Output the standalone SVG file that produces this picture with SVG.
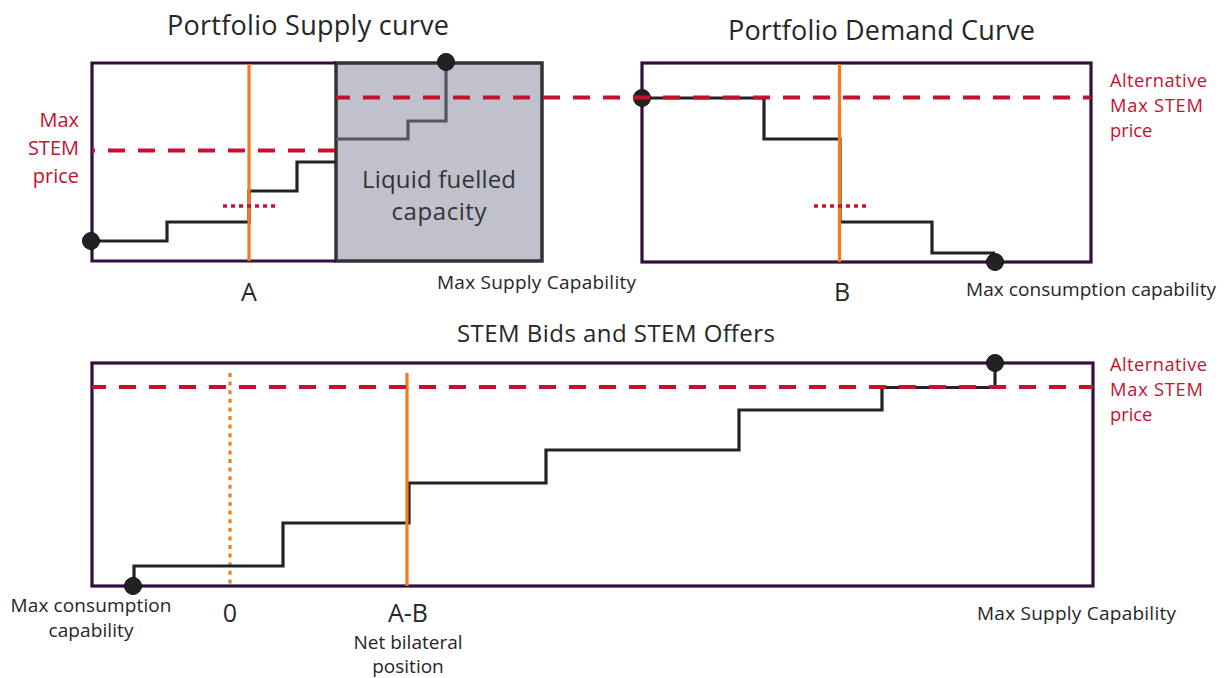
<svg xmlns="http://www.w3.org/2000/svg" width="1225" height="678" viewBox="0 0 1225 678">
<style>
text{font-family:"Open Sans","Noto Sans","Liberation Sans",sans-serif;fill:#262626}
.red{fill:#c8102e}
.frame{fill:none;stroke:#330f3e;stroke-width:3.2;stroke-linejoin:miter}
.curve{fill:none;stroke:#232323;stroke-width:3.2;stroke-linejoin:miter}
.gcurve{fill:none;stroke:#53565f;stroke-width:3.2}
.orange{stroke:#f47a20;stroke-width:3.2;fill:none}
.odot{stroke:#f47a20;stroke-width:3.2;stroke-dasharray:4 4.6;fill:none}
.dash{stroke:#c8102e;stroke-width:4;stroke-dasharray:17 13;fill:none}
.rdot{stroke:#c8102e;stroke-width:3.5;stroke-dasharray:4 4;fill:none}
.dot{fill:#222;stroke:#111;stroke-width:1}
.t1{font-size:27px}
.t2{font-size:24px}
.lab{font-size:19px}
.big{font-size:25px}
.rl{font-size:20px}
.alt{font-size:18.3px}
</style>

<g id="panel-supply">
  <text class="t1" x="308" y="35" text-anchor="middle" textLength="282">Portfolio Supply curve</text>
  <rect id="liquid-fuelled" x="336" y="63" width="206" height="198" fill="#c0c1cc" stroke="#333" stroke-width="3.5"/>
  <path class="frame" d="M336,63 H92 V261 H336"/>
  <path class="curve" d="M91,241 H167 V222 H249 V191 H297 V162 H336"/>
  <path class="gcurve" d="M336,139 H408 V121 H446 V62"/>
  <line class="orange" x1="249" y1="64" x2="249" y2="261"/>
  <line class="rdot" x1="223" y1="206" x2="275" y2="206"/>
  <line class="dash" x1="92" y1="150.5" x2="336" y2="150.5" stroke-dashoffset="14"/>
  <circle class="dot" cx="91" cy="241" r="8.5"/>
  <circle class="dot" cx="446" cy="62" r="8.5"/>
  <text class="t2" x="439" y="188" text-anchor="middle" style="fill:#333" textLength="154">Liquid fuelled</text>
  <text class="t2" x="439" y="220" text-anchor="middle" style="fill:#333" textLength="95">capacity</text>
  <text class="rl red" x="79" y="127" text-anchor="end">Max</text>
  <text class="rl red" x="79" y="155" text-anchor="end">STEM</text>
  <text class="rl red" x="79" y="183" text-anchor="end">price</text>
  <text class="big" x="249" y="301" text-anchor="middle">A</text>
  <text class="lab" x="437" y="289" textLength="199">Max Supply Capability</text>
</g>

<g id="panel-demand">
  <text class="t1" x="881.5" y="40" text-anchor="middle" textLength="307">Portfolio Demand Curve</text>
  <rect class="frame" x="642" y="63" width="449" height="199"/>
  <path class="curve" d="M642,98 H764 V139 H840 V222 H932 V253 H995"/>
  <line class="orange" x1="839.5" y1="64" x2="839.5" y2="262"/>
  <line class="rdot" x1="814" y1="206" x2="867" y2="206"/>
  <circle class="dot" cx="642" cy="98" r="8.5"/>
  <circle class="dot" cx="995" cy="262" r="8.5"/>
  <text class="alt red" x="1110" y="87" textLength="97">Alternative</text>
  <text class="alt red" x="1110" y="112" textLength="93">Max STEM</text>
  <text class="alt red" x="1110" y="137">price</text>
  <text class="big" x="842" y="301" text-anchor="middle">B</text>
  <text class="lab" x="966" y="296" textLength="250">Max consumption capability</text>
</g>

<g id="alt-price-line-top">
  <line class="dash" x1="336" y1="97.5" x2="1091" y2="97.5" stroke-dashoffset="3"/>
</g>

<g id="panel-stem">
  <text class="t2" x="616" y="342" text-anchor="middle" textLength="318">STEM Bids and STEM Offers</text>
  <rect class="frame" x="92" y="363" width="1001" height="223"/>
  <line class="odot" x1="230" y1="373" x2="230" y2="586"/>
  <path class="curve" d="M134,586 V566 H283 V523 H409 V483 H546 V450 H739 V410 H882 V387.5 H995 V363"/>
  <line class="orange" x1="407" y1="373" x2="407" y2="586"/>
  <line class="dash" x1="92" y1="387" x2="1093" y2="387" stroke-dashoffset="3"/>
  <circle class="dot" cx="133" cy="586" r="8.5"/>
  <circle class="dot" cx="995" cy="363" r="8.5"/>
  <text class="alt red" x="1110" y="371" textLength="97">Alternative</text>
  <text class="alt red" x="1110" y="396" textLength="93">Max STEM</text>
  <text class="alt red" x="1110" y="421">price</text>
  <text class="lab" x="91" y="612" text-anchor="middle" textLength="161">Max consumption</text>
  <text class="lab" x="91" y="637" text-anchor="middle" textLength="85">capability</text>
  <text class="big" x="230" y="622" text-anchor="middle">0</text>
  <text class="big" x="408" y="622" text-anchor="middle">A-B</text>
  <text class="lab" x="408" y="649" text-anchor="middle">Net bilateral</text>
  <text class="lab" x="408" y="673" text-anchor="middle">position</text>
  <text class="lab" x="977" y="620" textLength="199">Max Supply Capability</text>
</g>
</svg>
